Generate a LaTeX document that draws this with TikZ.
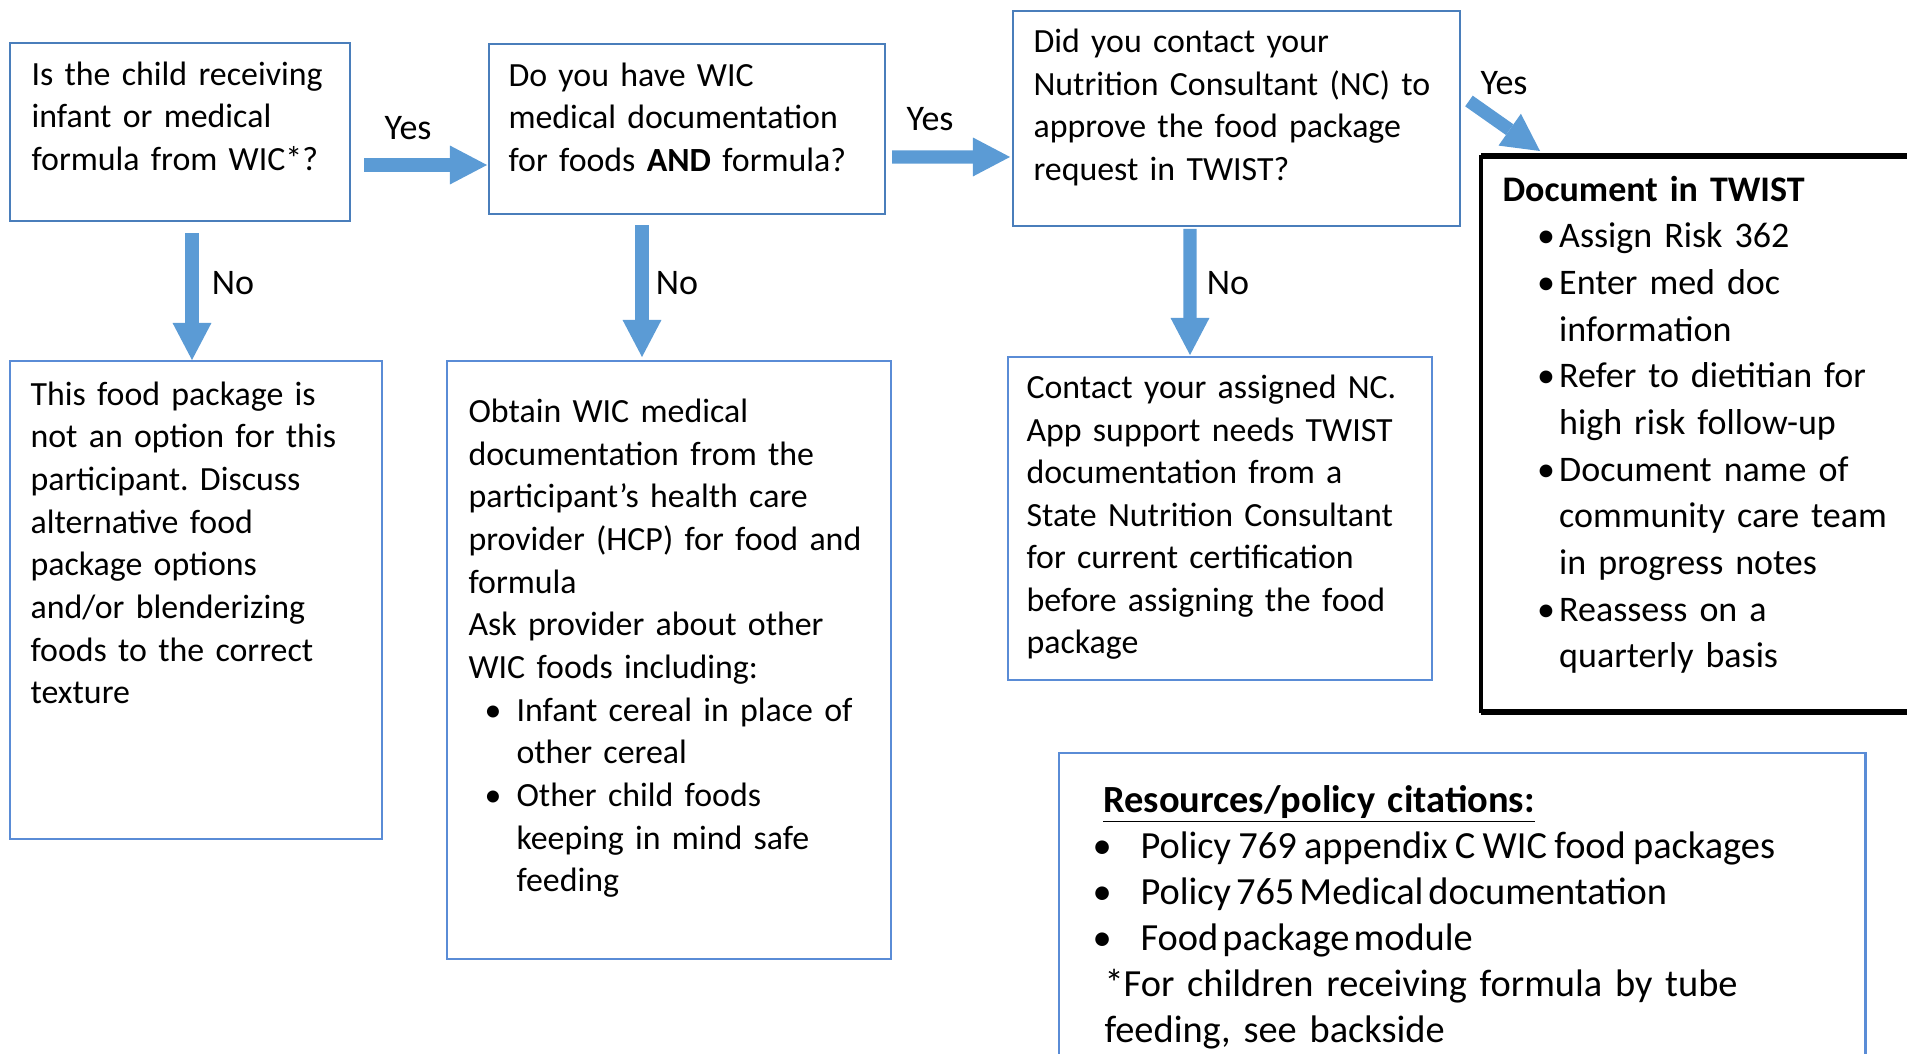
\documentclass[tikz,border=0pt]{standalone}
\usepackage{fontspec}
\setmainfont{Carlito}
\usetikzlibrary{arrows.meta,calc}
\frenchspacing

\definecolor{arrowblue}{RGB}{91,155,213}
\definecolor{topblue}{RGB}{74,126,187}
\definecolor{lowblue}{RGB}{90,140,214}

\newcommand{\bulitem}[2]{\hspace*{#1}\makebox[#2][l]{\textbullet}}

\tikzset{
  qbox/.style={draw=topblue,line width=0.9pt,inner sep=0pt,outer sep=0pt,anchor=north west},
  abox/.style={draw=lowblue,line width=0.75pt,inner sep=0pt,outer sep=0pt,anchor=north west},
  docbox/.style={draw=black,line width=1.6pt,inner sep=0pt,outer sep=0pt,anchor=north west},
  resbox/.style={draw=lowblue,line width=1.1pt,inner sep=0pt,outer sep=0pt,anchor=north west},
  txt/.style={anchor=base west,inner sep=0pt,align=left,text width=12cm,font=\fontsize{12.7}{16}\selectfont},
  lbl/.style={inner sep=0pt,font=\fontsize{13.5}{16}\selectfont},
  flowarrow/.style={draw=arrowblue,line width=4.9pt,-{Triangle[length=13.9pt,width=14.6pt,line width=0pt]}}
}

\begin{document}
\begin{tikzpicture}[x=0.375pt,y=0.375pt,yscale=-1,xscale=1]
\clip (0,0) rectangle (1907,1053);

%Shape: Rectangle [question 1]
\node[qbox,minimum width=127.5pt,minimum height=66.75pt] (q1) at (10,43) {};
%Shape: Rectangle [question 2]
\node[qbox,minimum width=148.5pt,minimum height=63.75pt] (q2) at (489,44) {};
%Shape: Rectangle [question 3]
\node[qbox,minimum width=167.6pt,minimum height=80.6pt] (q3) at (1013,11) {};
%Shape: Rectangle [document in TWIST]
\node[docbox,minimum width=166.5pt,minimum height=207.75pt] (doc) at (1481,157) {};
\draw[line width=0.4pt] ($(doc.north west)+(0,-3)$) -- ($(doc.north east)+(0,-3)$);
\draw[line width=0.4pt] ($(doc.south west)+(0,3)$) -- ($(doc.south east)+(0,3)$);
%Shape: Rectangle [answer 1]
\node[abox,minimum width=139.5pt,minimum height=179.25pt] (a1) at (10,361) {};
%Shape: Rectangle [answer 2]
\node[abox,minimum width=166.5pt,minimum height=224.25pt] (a2) at (447,361) {};
%Shape: Rectangle [answer 3]
\node[abox,minimum width=159pt,minimum height=121.1pt] (a3) at (1008,357) {};
%Shape: Rectangle [resources]
\node[resbox,minimum width=302.6pt,minimum height=120.75pt] (res) at (1059,753) {};

% Text Node
\node[txt] (q1t) at ($(q1.north west)+(21,42)$) {Is the child receiving\\infant or medical\\formula from WIC*?};
% Text Node
\node[txt] (q2t) at ($(q2.north west)+(19,42)$) {Do you have WIC\\medical documentation\\for foods \textbf{AND} formula?};
% Text Node
\node[txt] (q3t) at ($(q3.north west)+(20,41.5)$) {Did you contact your\\Nutrition Consultant (NC) to\\approve the food package\\request in TWIST?};
% Text Node
\node[txt,font=\fontsize{13.5}{17.5}\selectfont] (doct) at ($(doc.north west)+(21,44)$) {\textbf{Document in TWIST}\\
\bulitem{13pt}{8.25pt}Assign Risk 362\\
\bulitem{13pt}{8.25pt}Enter med doc\\
\hspace*{21.25pt}information\\
\bulitem{13pt}{8.25pt}Refer to dietitian for\\
\hspace*{21.25pt}high risk follow-up\\
\bulitem{13pt}{8.25pt}Document name of\\
\hspace*{21.25pt}community care team\\
\hspace*{21.25pt}in progress notes\\
\bulitem{13pt}{8.25pt}Reassess on a\\
\hspace*{21.25pt}quarterly basis};
% Text Node
\node[txt] (a1t) at ($(a1.north west)+(20,44)$) {This food package is\\not an option for this\\participant. Discuss\\alternative food\\package options\\and/or blenderizing\\foods to the correct\\texture};
% Text Node
\node[txt] (a2t) at ($(a2.north west)+(21,61.5)$) {Obtain WIC medical\\
documentation from the\\
participant’s health care\\
provider (HCP) for food and\\
formula\\
Ask provider about other\\
WIC foods including:\\
\bulitem{6pt}{12pt}Infant cereal in place of\\
\hspace*{18pt}other cereal\\
\bulitem{6pt}{12pt}Other child foods\\
\hspace*{18pt}keeping in mind safe\\
\hspace*{18pt}feeding};
% Text Node
\node[txt,font=\fontsize{12.7}{15.95}\selectfont] (a3t) at ($(a3.north west)+(18,41.5)$) {Contact your assigned NC.\\App support needs TWIST\\documentation from a\\State Nutrition Consultant\\for current certification\\before assigning the food\\package};
% Text Node
\node[txt,font=\fontsize{14.4}{17.25}\selectfont] (rest) at ($(res.north west)+(33,59)$) {\hspace*{4.1pt}\underline{\textbf{Resources/policy citations:}}\\
\makebox[18pt][l]{\textbullet}{\spaceskip=0.19em\relax Policy 769 appendix C WIC food packages}\\
\makebox[18pt][l]{\textbullet}{\spaceskip=0.13em\relax Policy 765 Medical documentation}\\
\makebox[18pt][l]{\textbullet}{\spaceskip=0.11em\relax Food package module}\\
\hspace*{4.5pt}*For children receiving formula by tube\\
\hspace*{4.5pt}feeding, see backside};

%Shape: Right Arrow [yes / no]
\draw[flowarrow] ($(q1.east)+(14,33)$) -- ($(q1.east -| q2.west)+(-2,33)$);
\draw[flowarrow] ($(q1.south)+(12,12)$) -- ($(a1.north)+(-4,-1)$);
\draw[flowarrow] ($(q2.south)+(-45,11)$) -- ($(a2.north)+(-27,-4)$);
\draw[flowarrow] ($(q2.east)+(7,28)$) -- ($(q3.west)+(-3,38.5)$);
\draw[flowarrow] ($(q3.south)+(-46.5,3)$) -- ($(a3.north)+(-30,-2)$);
\draw[flowarrow] ($(q3.north east)+(9,90)$) -- ($(doc.north west)+(59,-6)$);

% Text Node
\node[lbl] (yes1) at (408,128) {Yes};
% Text Node
\node[lbl] (no1) at (233,283) {No};
% Text Node
\node[lbl] (no2) at (677,283) {No};
% Text Node
\node[lbl] (yes2) at (930,119) {Yes};
% Text Node
\node[lbl] (no3) at (1228,283) {No};
% Text Node
\node[lbl] (yes3) at (1504,83) {Yes};

\end{tikzpicture}
\end{document}
